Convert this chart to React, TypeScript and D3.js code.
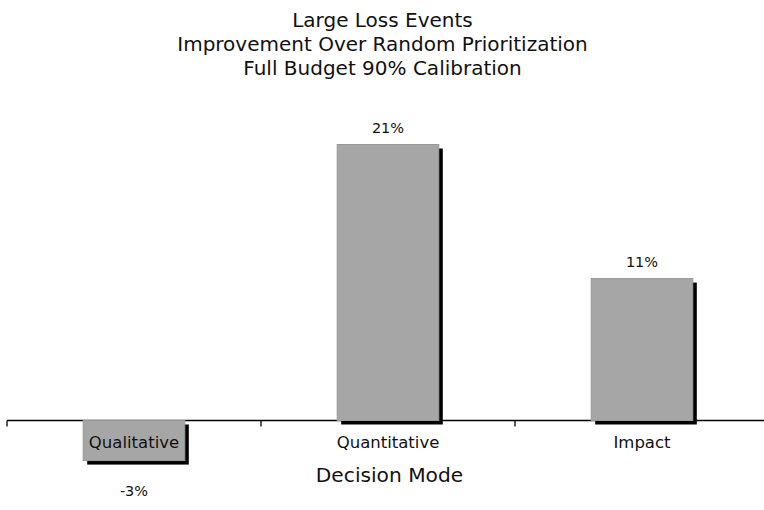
import React from "react";
import * as d3 from "d3";

const categories = ["Qualitative", "Quantitative", "Impact"];
const values = [-0.0305, 0.21, 0.108];
const titleLines = [
  "Large Loss Events",
  "Improvement Over Random Prioritization",
  "Full Budget 90% Calibration",
];
const xAxisTitle = "Decision Mode";

const W = 764;
const H = 510;
const FONT = "'DejaVu Sans', Verdana, sans-serif";

export default function App() {
  const x = d3
    .scaleBand<string>()
    .domain(categories)
    .range([7, 769])
    .paddingInner(0.6)
    .paddingOuter(0.3);
  const y = d3.scaleLinear().domain([0, 0.21]).range([420.5, 144.5]);
  const step = x.step();
  const tickXs = d3.range(categories.length + 1).map((i) => 7 + i * step);
  const fmt = (v: number) => d3.format(".0%")(v).replace("\u2212", "-");
  const y0 = y(0);

  return (
    <svg
      width={W}
      height={H}
      style={{ position: "absolute", left: 0, top: 0, background: "#fff" }}
      fontFamily={FONT}
    >
      <defs>
        <filter id="blur" x="-10%" y="-10%" width="120%" height="120%">
          <feGaussianBlur stdDeviation="0.6" />
        </filter>
      </defs>
      {titleLines.map((t, i) => (
        <text key={i} x={382.5} y={27 + i * 24} textAnchor="middle" fontSize={20} fill="#111">
          {t}
        </text>
      ))}
      {/* axis */}
      <line x1={7} x2={769} y1={y0} y2={y0} stroke="#000" strokeWidth={1.3} />
      {tickXs.map((tx, i) => (
        <line key={i} x1={tx} x2={tx} y1={y0} y2={y0 + 6} stroke="#000" strokeWidth={1.3} />
      ))}
      {/* bars */}
      {categories.map((c, i) => {
        const v = values[i];
        const top = Math.min(y(v), y0);
        const h = Math.abs(y(v) - y0);
        const bx = x(c)!;
        return (
          <g key={c}>
            <rect x={bx + 4} y={top + 4} width={x.bandwidth()} height={h} fill="#000" filter="url(#blur)" />
            <rect x={bx} y={top} width={x.bandwidth()} height={h} fill="#a6a6a6" stroke="#999" strokeWidth={1} />
          </g>
        );
      })}
      {/* value labels */}
      {categories.map((c, i) => {
        const v = values[i];
        const cx = x(c)! + x.bandwidth() / 2;
        const ly = v >= 0 ? y(v) - 12 : y(v) + 35;
        return (
          <text key={c} x={cx} y={ly} textAnchor="middle" fontSize={14.5} fill="#111">
            {fmt(v)}
          </text>
        );
      })}
      {/* category labels */}
      {categories.map((c) => (
        <text key={c} x={x(c)! + x.bandwidth() / 2} y={448} textAnchor="middle" fontSize={16.5} fill="#111">
          {c}
        </text>
      ))}
      <text x={389.5} y={482} textAnchor="middle" fontSize={20.2} fill="#111">
        {xAxisTitle}
      </text>
    </svg>
  );
}
